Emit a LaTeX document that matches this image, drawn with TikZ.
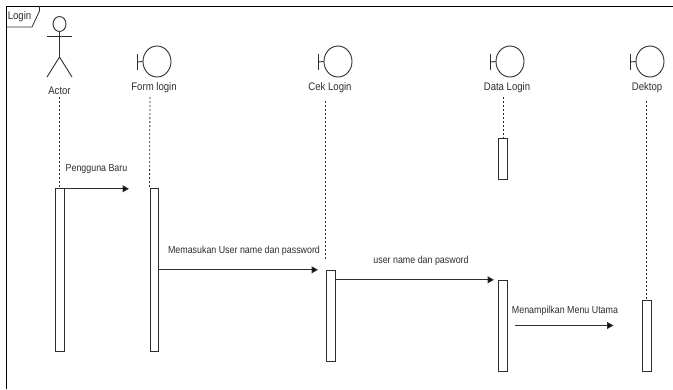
\documentclass[tikz,border=0pt]{standalone}
\usepackage{fontspec}
\setmainfont{Liberation Sans}
\newfontfamily\narrowfont[FakeStretch=0.87]{Liberation Sans}
\usetikzlibrary{arrows.meta,shapes.geometric,calc}
\definecolor{ink}{HTML}{2E2E2E}
\tikzset{
  x=1pt,y=-1pt,
  txt/.style={inner sep=0pt,text=ink,font=\narrowfont\fontsize{11}{12}\selectfont,anchor=center},
  msg/.style={inner sep=0pt,text=ink,font=\narrowfont\fontsize{10.2}{11}\selectfont,anchor=center},
  bound/.style={draw=ink,line width=0.9pt,ellipse,inner sep=0pt,minimum width=28pt,minimum height=31pt},
  acti/.style={draw=ink,line width=1pt,fill=white,inner sep=0pt,minimum width=8.5pt,anchor=north},
  life/.style={draw=ink,line width=0.8pt,dash pattern=on 2pt off 2pt},
  call/.style={draw=ink,line width=1.1pt,-{Triangle[length=6.5pt,width=7pt,fill=black]}},
  lin/.style={draw=ink,line width=0.9pt},
}
\begin{document}
\begin{tikzpicture}
\useasboundingbox (0,0) rectangle (673,389);
\fill[white] (0,0) rectangle (673,389);
% frame
\draw[black,line width=1pt] (6.5,389) -- (6.5,6) -- (673,6);
\draw[ink,line width=0.8pt] (6.5,27) -- (32,27) -- (39.5,11) -- (39.5,6);
\node[inner sep=0pt,text=ink,font=\narrowfont\fontsize{11}{12}\selectfont] (frameT) at (19.5,16.5) {Login};
% actor
\node[draw=ink,line width=0.9pt,ellipse,inner sep=0pt,minimum width=13pt,minimum height=15pt] (head) at (59.5,24) {};
\coordinate (hip) at (59.5,57);
\coordinate (armL) at (47,36.5);
\coordinate (armR) at (72,36.5);
\coordinate (legL) at (47,77);
\coordinate (legR) at (72,77);
\draw[lin] (head.south) -- (hip);
\draw[lin] (armL) -- (armR);
\draw[lin] (legL) -- (hip) -- (legR);
\node[txt] (lblA) at (59.5,91) {Actor};
% boundaries
\node[bound] (bF) at (157,61.5) {};
\node[bound] (bC) at (338,61.5) {};
\node[bound] (bD) at (510,61.5) {};
\node[bound] (bT) at (650,61.5) {};
\foreach \n/\x in {bF/137.5,bC/318,bD/490,bT/630}{
  \coordinate (\n t) at (\x,54);
  \coordinate (\n b) at (\x,70);
  \coordinate (\n m) at (\x,62);
  \draw[lin] (\n t) -- (\n b);
  \draw[lin] (\n m) -- (\n.west);
}
\node[txt] (lblF) at (154,88) {Form login};
\node[txt] (lblC) at (330,88) {Cek Login};
\node[txt] (lblD) at (507,88) {Data Login};
\node[txt] (lblT) at (647,88) {Dektop};
% activations
\node[acti,minimum height=163pt] (aA) at (59.8,188) {};
\node[acti,minimum height=163pt] (aF) at (154.3,188) {};
\node[acti,minimum height=91.5pt] (aC) at (330.8,269.5) {};
\node[acti,minimum height=41.5pt] (aD1) at (503,137.5) {};
\node[acti,minimum height=91.5pt] (aD2) at (503,279.5) {};
\node[acti,minimum height=71pt] (aT) at (646.8,300) {};
% lifelines
\coordinate (lA) at (59.8,97);
\coordinate (lF) at (150,97);
\coordinate (lC) at (325.5,101);
\coordinate (eC) at (325.5,260);
\coordinate (lD) at (503,97);
\coordinate (lT) at (646.8,101);
\draw[life] (lA) -- (aA.north);
\draw[life] (lF) -- (aF.north west);
\draw[life] (lC) -- (eC);
\draw[life] (lD) -- (aD1.north);
\draw[life] (lT) -- (aT.north);
% messages
\coordinate (m1) at (129,188.8);
\coordinate (m2) at (318,269.8);
\coordinate (m3) at (494,279.8);
\coordinate (m4s) at (515,325.5);
\coordinate (m4e) at (613.5,325.5);
\draw[call] (aA.north east) ++(0,0.8) -- (m1);
\draw[call] (aF.east |- m2) -- (m2);
\draw[call] (aC.east |- m3) -- (m3);
\draw[call] (m4s) -- (m4e);
\node[msg] (t1) at (96.5,169.5) {Pengguna Baru};
\node[msg] (t2) at (244,250.5) {Memasukan User name dan password};
\node[msg] (t3) at (421,260.5) {user name dan pasword};
\node[msg] (t4) at (565,311) {Menampilkan Menu Utama};
\end{tikzpicture}
\end{document}
